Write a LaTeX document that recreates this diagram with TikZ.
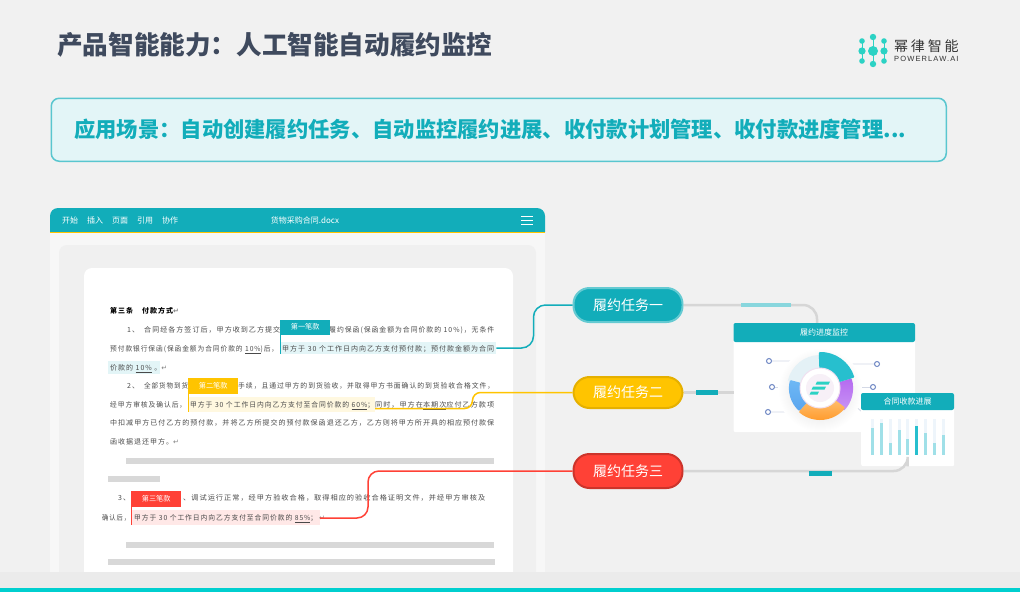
\documentclass[tikz,border=0pt]{standalone}
\usepackage{fontspec}
\usepackage{graphicx}
\setmainfont{Noto Sans CJK SC}
\newfontfamily\symbfont{DejaVu Sans}
\newfontfamily\docfont[LetterSpace=14]{Noto Sans CJK SC}
\newfontfamily\logocjk[LetterSpace=20]{Noto Sans CJK SC}
\newfontfamily\logolatin[LetterSpace=15]{Liberation Sans}
\usetikzlibrary{calc}
\definecolor{teal1}{HTML}{12ADBA}
\definecolor{amber1}{HTML}{FFC400}
\definecolor{red1}{HTML}{FF4136}
\definecolor{bggray}{HTML}{F1F1F1}
\definecolor{doctext}{HTML}{4A4A4A}
\definecolor{titleink}{HTML}{3F4A5E}
\definecolor{barfill}{HTML}{D8D8D8}
\definecolor{wire}{HTML}{D6D6D6}
\definecolor{leader}{HTML}{D4D9E6}
\definecolor{pin}{HTML}{6F87C4}
\definecolor{logoteal}{HTML}{2BD2C4}
\definecolor{stripteal}{HTML}{00CFCF}
\definecolor{paleseg}{HTML}{E4F1F6}
\definecolor{tealseg}{HTML}{27BFCE}
\definecolor{barlight}{HTML}{A0E0E8}
\definecolor{bartrack}{HTML}{EEF5FB}
\newcommand{\fsz}[1]{\fontsize{#1}{#1}\selectfont}
\newcommand{\docline}[5]{\node[docfree] (#1) at (#2,#3) {\resizebox{#4pt}{\height}{#5}};}
\newcommand{\ret}{{\symbfont\textcolor{gray}{\char"21B5}}}
\begin{document}
\begin{tikzpicture}[x=1pt,y=-1pt,
      every node/.style={inner sep=0pt},
      docfree/.style={anchor=west,text=doctext,font=\docfont\fsz{7},text height=6pt,text depth=1pt},
      hlbox/.style={anchor=west,minimum height=#1},
      tagbox/.style={anchor=north west,text=white,font=\fsz{7.2},minimum width=49pt,minimum height=15pt},
      taskpill/.style={anchor=west,rounded corners=16pt,minimum width=109pt,minimum height=34pt,text=white,font=\fsz{14},line width=2pt},
      cardbox/.style={anchor=north west,fill=white,rounded corners=2pt},
      cardhead/.style={anchor=center,text=white},
      wireline/.style={wire,line width=2.5pt},
      menuitem/.style={anchor=west,text=white,font=\fsz{8},text height=7pt,text depth=1pt},
      leadline/.style={leader,line width=.8pt},
      pindot/.style={circle,draw=pin,fill=white,line width=1pt,minimum size=5pt}]
  \useasboundingbox (0,0) rectangle (1020,592);
  \fill[bggray] (0,0) rectangle (1020,592);

  \node[anchor=west,text=titleink,font=\fsz{25.6}\bfseries] (pagetitle) at (57,45) {产品智能能力：人工智能自动履约监控};
  \draw[logoteal,line width=1pt] (862,41)--(862,61) (873,37)--(873,64) (884,41)--(884,61);
  \foreach \x/\y/\r in {862/41/2.8,862/51/3.6,862/61/2.8,873/37/3.2,873/51/5,873/64/3.2,884/41/2.8,884/51/3.6,884/61/2.8}
    \fill[logoteal] (\x,\y) circle (\r);
  \node[anchor=west,text=black!80,font=\logocjk\fsz{14}] (logocn) at (894,46) {幂律智能};
  \node[anchor=west,text=black!80,font=\logolatin\fsz{7.5}] (logoen) at (894,59) {POWERLAW.AI};

  \node[anchor=north west,draw=teal1!70!white,fill=teal1!12!white,line width=1.5pt,rounded corners=8pt,
    minimum width=895pt,minimum height=63pt] (banner) at (50.5,97.5) {};
  \node[anchor=west,text=teal1,font=\fsz{21.3}\bfseries] (bannertext) at (74,129) {应用场景：自动创建履约任务、自动监控履约进展、收付款计划管理、收付款进度管理...};

  \fill[color=black!3] (50,232) rectangle (545,572);
  \fill[color=black!6,rounded corners=8pt] (59,572) |- (536,245) -- (536,572);
  \fill[white,rounded corners=8pt] (84,572) |- (513,268) -- (513,572);
  \fill[teal1,rounded corners=8pt] (50,232) |- (545,208) -- (545,232);
  \fill[amber1] (50,232) rectangle (545,233.2);
  \foreach \x/\t [count=\i] in {62/开始,87/插入,112/页面,137/引用,162/协作}
    \node[menuitem] (menu\i) at (\x,220) {\t};
  \node[text=white,font=\fsz{8}] (docname) at (305,220) {货物采购合同.docx};
  \foreach \y in {216,220,224}
    \draw[white,line width=1pt] (521,\y)--(533,\y);

  \node[hlbox=12pt,fill=teal1!12!white,minimum width=216pt] (hlone) at (280,348) {};
  \node[hlbox=13pt,fill=teal1!12!white,minimum width=52pt] (hlonetail) at (108,367) {};
  \node[hlbox=15pt,fill=amber1!12!white,minimum width=187pt] (hltwo) at (188,404.5) {};
  \node[hlbox=15pt,fill=red1!12!white,minimum width=189pt] (hlthree) at (131,517.5) {};

  \node[docfree,text=black,font=\docfont\fsz{7}\bfseries] (clause) at (110,311) {第三条\hspace{9pt}付款方式\ret};
  \node[docfree] (numone) at (127,330) {1、};
  \docline{lineonea}{144}{330}{136}{合同经各方签订后，甲方收到乙方提交}
  \docline{lineoneb}{329}{330}{165}{履约保函(保函金额为合同价款的 10\%)，无条件}
  \docline{linetwoa}{110}{349}{168}{预付款银行保函(保函金额为合同价款的 \underline{10\%})后，}
  \docline{linetwob}{282}{349}{212}{甲方于 30 个工作日内向乙方支付预付款；预付款金额为合同}
  \node[docfree] (linethree) at (110,368) {价款的 \underline{10\%} 。\ret};
  \node[docfree] (numtwo) at (127,386) {2、};
  \docline{linefoura}{144}{386}{44}{全部货物到货}
  \docline{linefourb}{238}{386}{256}{手续，且通过甲方的到货验收，并取得甲方书面确认的到货验收合格文件，}
  \docline{linefivea}{110}{405}{76}{经甲方审核及确认后，}
  \docline{linefiveb}{190}{405}{184}{甲方于 30 个工作日内向乙方支付至合同价款的 \underline{60\%}；}
  \docline{linefivec}{375}{405}{119}{同时，甲方在\underline{本期次}应付乙方款项}
  \docline{linesix}{110}{423}{384}{中扣减甲方已付乙方的预付款，并将乙方所提交的预付款保函退还乙方，乙方则将甲方所开具的相应预付款保}
  \node[docfree] (lineseven) at (110,442) {函收据退还甲方。\ret};
  \node[docfree] (numthree) at (118,498) {3、};
  \docline{lineeight}{183}{498}{302}{、调试运行正常，经甲方验收合格，取得相应的验收合格证明文件，并经甲方审核及}
  \docline{lineninea}{102}{518}{28}{确认后，}
  \docline{lineninec}{134}{518}{183}{甲方于 30 个工作日内向乙方支付至合同价款的 \underline{85\%}；}
  \node[docfree] (returnmark) at (319,518) {\ret};

  \fill[barfill] (126,457.5) rectangle (494,463.5);
  \fill[barfill] (108,476) rectangle (160,482);
  \fill[barfill] (126,542) rectangle (494,548);
  \fill[barfill] (108,559) rectangle (495,565);

  \draw[teal1,line width=1pt] (280.5,320)--(280.5,354);
  \draw[amber1,line width=1pt] (188.5,378)--(188.5,412);
  \draw[red1,line width=1pt] (131.5,491)--(131.5,525);
  \node[tagbox,fill=teal1] (tagone) at (280.5,319.5) {第一笔款};
  \node[tagbox,fill=amber1,minimum height=16pt] (tagtwo) at (188.5,378) {第二笔款};
  \node[tagbox,fill=red1,minimum height=16pt] (tagthree) at (131.5,491) {第三笔款};

  \fill[black!8] (0,572) rectangle (1020,588);
  \fill[stripteal] (0,588) rectangle (1020,592);

  \node[taskpill,fill=teal1,draw=teal1!65!white] (taskone) at (572.5,305) {履约任务一};
  \node[taskpill,fill=amber1,draw=amber1!90!black,minimum height=31pt] (tasktwo) at (572.5,392.5) {履约任务二};
  \node[taskpill,fill=red1,draw=red1!80!black] (taskthree) at (572.5,471) {履约任务三};

  \coordinate (yellowstart) at (375,408.5);
  \coordinate (redstart) at (320,518);
  \draw[teal1,line width=1.5pt,rounded corners=12pt] (hlone.east) -- (533.5,348) -- (533.5,305) -- (taskone.west);
  \draw[amber1,line width=1.5pt,rounded corners=8pt] (yellowstart) -- (472.5,408.5) -- (472.5,392.5) -- (tasktwo.west);
  \draw[red1,line width=1.5pt,rounded corners=11pt] (redstart) -- (368,518) -- (368,471) -- (taskthree.west);

  \node[cardbox,minimum width=181.5pt,minimum height=109pt] (monitorcard) at (733.5,323) {};
  \coordinate (monitorin) at (817,323);
  \draw[wireline,rounded corners=14pt] (taskone.east) -| (monitorin);
  \draw[wireline] (tasktwo.east) -- (tasktwo.east -| monitorcard.west);
  \fill[color=teal1!50!white] (741,302.5) rectangle (791,307);
  \fill[teal1] (696,390) rectangle (718,395);
  \fill[teal1,rounded corners=2pt] (733.5,342) |- (915,323) -- (915,342) -- cycle;
  \node[cardhead,font=\fsz{8}] (monitortitle) at (824,332.5) {履约进度监控};

  \draw[leadline] (772,361)--(797,361)--(803,367);
  \draw[leadline] (775,387)--(790,387);
  \draw[leadline] (771,412)--(796,412)--(800,410);
  \draw[leadline] (874,364)--(852,364)--(847,368);
  \draw[leadline] (870,387)--(856,387);
  \draw[leadline] (852,403)--(862,412);
  \foreach \x/\y [count=\i] in {769/361,772/387,768/412,877/364,873/387}
    \node[pindot] (pin\i) at (\x,\y) {};

  \begin{scope}[shift={(820,388)},yscale=-1]
    \shade[inner color=black!16,outer color=white] (0,-2) circle (42);
    \fill[paleseg] (92:33) arc (92:167:33) -- (167:19) arc (167:92:19) -- cycle;
    \path[top color={rgb,255:red,181;green,106;blue,240},bottom color={rgb,255:red,200;green,148;blue,245},rounded corners=1pt] (17:33) arc (17:-44:33) -- (-44:19) arc (-44:17:19) -- cycle;
    \path[top color={rgb,255:red,255;green,190;blue,110},bottom color={rgb,255:red,255;green,154;blue,42},rounded corners=1pt] (-38:32) arc (-38:-132:32) -- (-132:19) arc (-132:-38:19) -- cycle;
    \path[top color={rgb,255:red,109;green,184;blue,245},bottom color={rgb,255:red,91;green,165;blue,238},rounded corners=1pt] (-132:31) arc (-132:-195:31) -- (-195:19) arc (-195:-132:19) -- cycle;
    \fill[tealseg,rounded corners=1pt] (92:36) arc (92:17:36) -- (17:19) arc (17:92:19) -- cycle;
    \fill[white,draw=violet!12!white,line width=1pt] (0,0) circle (20);
    \fill[color=violet!6!white] (0,0) circle (14);
    \fill[logoteal] (-3,6.5)--(10,6.5)--(8.5,3.5)--(-4.5,3.5)--cycle;
    \fill[logoteal] (-7,1.5)--(6,1.5)--(4.5,-1.5)--(-8.5,-1.5)--cycle;
    \fill[logoteal] (-9,-3.5)--(-1,-3.5)--(-2.5,-6.5)--(-10.5,-6.5)--cycle;
  \end{scope}

  \node[cardbox,minimum width=93pt,minimum height=73pt] (paycard) at (861,393) {};
  \draw[wireline,rounded corners=14pt] (taskthree.east) -| (paycard.south);
  \fill[teal1] (809,471) rectangle (832,475.5);
  \fill[teal1,rounded corners=2pt] (861,410) |- (954,393) -- (954,410) -- cycle;
  \node[cardhead,font=\fsz{8}] (paytitle) at (907.5,401.5) {合同收款进展};
  \foreach \x/\t/\c in {872.7/428/barlight,881.3/423/barlight,890.3/443/barlight,899/430/barlight,907.7/439/barlight,916.7/426/tealseg,925.3/433/barlight,934.3/443/barlight,943.3/435/barlight}{
    \fill[bartrack] (\x-1.5,419) rectangle (\x+1.5,455);
    \fill[color=\c] (\x-1.5,\t) rectangle (\x+1.5,455);
  }
\end{tikzpicture}
\end{document}
